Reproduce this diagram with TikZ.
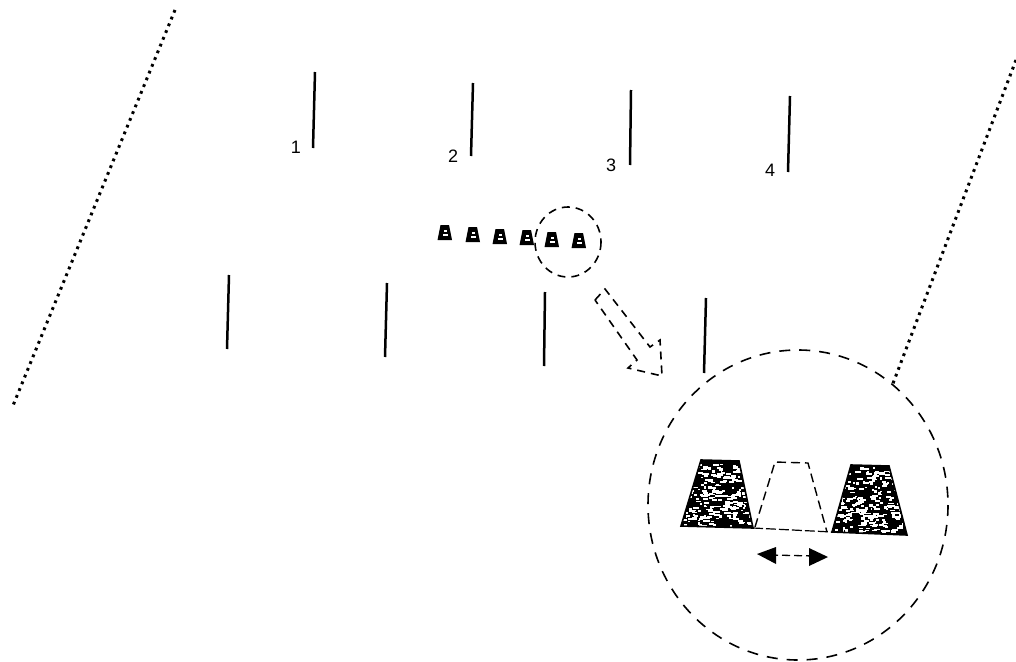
\documentclass[tikz,border=0pt]{standalone}
\usepackage{fontspec}
\setmainfont{Liberation Sans}
\usetikzlibrary{arrows.meta}
\tikzset{
  post/.style={line width=2.5pt,black},
  dotline/.style={line width=3pt,dash pattern=on 2.8pt off 4.5pt,black},
  dash1/.style={line width=1.6pt,dash pattern=on 11pt off 9pt,black},
  dash2/.style={line width=1.6pt,dash pattern=on 8pt off 6pt,black},
  lab/.style={font=\fontsize{18}{20}\selectfont,inner sep=0pt},
  cone/.style={fill=black},
}
\newcommand{\smallcone}[2]{%
  \fill[cone] (#1-4.5,#2-8) -- (#1+4,#2-8) -- (#1+7,#2+7) -- (#1-7.5,#2+7) -- cycle;
  \fill[white] (#1-1.5,#2-3) rectangle (#1+1.5,#2-1);
  \fill[white] (#1-2,#2+1) rectangle (#1+2.5,#2+3);
}
\newcommand{\speckle}[4]{% x0 x1 y0 y1
  \foreach \i in {1,...,260}{
    \pgfmathsetmacro{\px}{#1+rnd*(#2-#1)}
    \pgfmathsetmacro{\py}{#3+rnd*(#4-#3)}
    \pgfmathsetmacro{\pw}{1.5+rnd*5}
    \pgfmathsetmacro{\ph}{1.3+rnd*1.2}
    \fill[white] (\px,\py) rectangle ++(\pw,\ph);
  }
}
\begin{document}
\begin{tikzpicture}[x=1pt,y=-1pt]
\pgfmathsetseed{4711}
\useasboundingbox (0,0) rectangle (1016,661);
\fill[white] (0,0) rectangle (1016,661);
% dotted edges
\coordinate (dla) at (175,10); \coordinate (dlb) at (12,408);
\coordinate (dra) at (1016,60); \coordinate (drb) at (892,386);
\draw[dotline] (dla) -- (dlb);
\draw[dotline] (dra) -- (drb);
% posts
\foreach \n/\xa/\ya/\xb/\yb in {
  a/315/72/313/148, b/473/83/471/156, c/631/90/630/165, d/790/96/788/172,
  e/229/275/227/349, f/387/283/385/357, g/545/292/544/366, h/706/298/704/373}{
  \coordinate (\n1) at (\xa,\ya); \coordinate (\n2) at (\xb,\yb);
  \draw[post] (\n1) -- (\n2);
}
% labels
\node[lab] (l1) at (296,147) {1};
\node[lab] (l2) at (453,156) {2};
\node[lab] (l3) at (611,165) {3};
\node[lab] (l4) at (770,170) {4};
% small cones
\smallcone{445}{233}
\smallcone{473}{235}
\smallcone{500}{237}
\smallcone{527}{238}
\smallcone{552}{240}
\smallcone{579}{241}
% circles
\draw[dash2] (568,242) ellipse [x radius=33,y radius=35];
\draw[dash1] (798,505) ellipse [x radius=150,y radius=155];
% hollow dashed arrow
\draw[dash2] (595,300) -- (605,289) -- (650,347) -- (660,340) -- (662,376) -- (628,368) -- (637,360) -- cycle;
% big cones
\begin{scope}
  \clip (701,460) -- (739,461) -- (753,528) -- (681,526) -- cycle;
  \fill[black] (675,455) rectangle (760,532);
  \speckle{681}{750}{462}{525}
\end{scope}
\draw[line width=1.6pt] (701,460) -- (739,461) -- (753,528) -- (681,526) -- cycle;
\begin{scope}
  \clip (851,465) -- (889,466) -- (907,535) -- (832,532) -- cycle;
  \fill[black] (828,460) rectangle (910,538);
  \speckle{834}{904}{467}{531}
\end{scope}
\draw[line width=1.6pt] (851,465) -- (889,466) -- (907,535) -- (832,532) -- cycle;
% dashed cone
\draw[line width=1.4pt,dash pattern=on 9pt off 5pt] (755,527) -- (775,462) -- (808,463) -- (827,532);
\draw[line width=1.2pt,dash pattern=on 10pt off 3pt] (753,528) -- (832,532);
% double arrow
\coordinate (aa) at (770,555); \coordinate (ab) at (815,556);
\draw[line width=1.3pt,dash pattern=on 8pt off 4pt] (aa) -- (ab);
\fill[black] (757,554) -- (776,547) -- (776,564) -- cycle;
\fill[black] (828,557) -- (809,548) -- (809,566) -- cycle;
\end{tikzpicture}
\end{document}
